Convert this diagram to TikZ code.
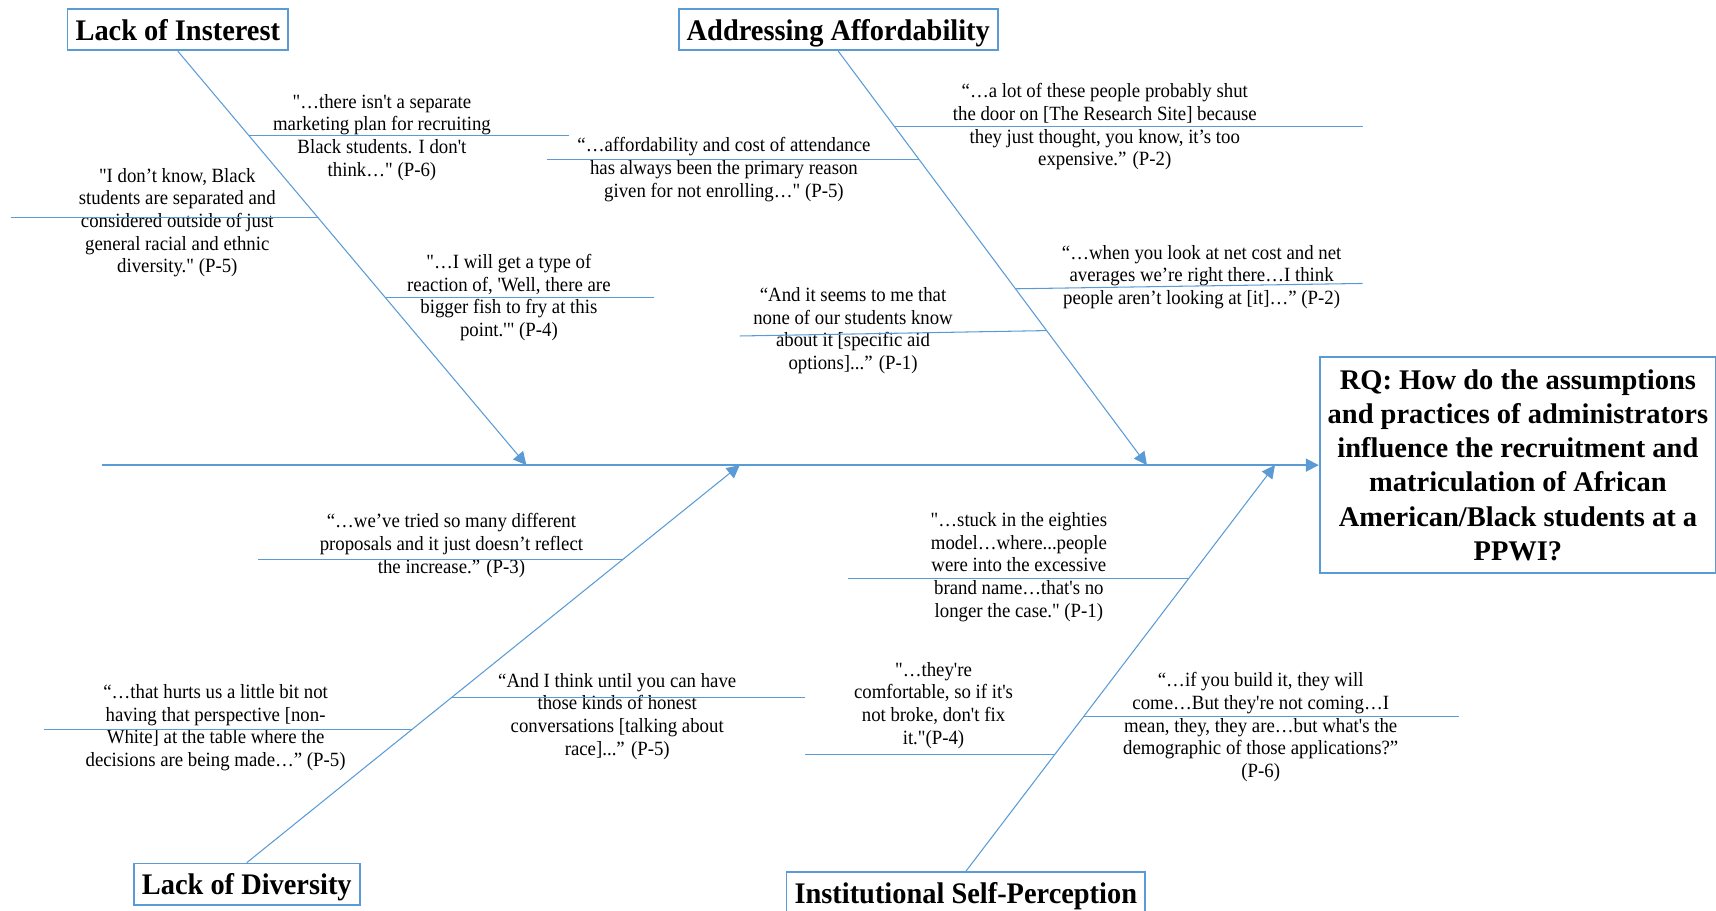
\documentclass[tikz,border=0pt]{standalone}
\usepackage{fontspec}
\newfontfamily\quotefont{Liberation Serif}[FakeStretch=0.93]
\newfontfamily\titlefont{Liberation Serif}[FakeStretch=0.95]
\newfontfamily\rqfont{Liberation Serif}
\usetikzlibrary{arrows.meta,calc}
\definecolor{bone}{HTML}{5B9BD5}

\begin{document}
\begin{tikzpicture}[x=0.021888cm, y=-0.021888cm,
    >={Triangle[length=0.26cm,width=0.26cm]}]
  \useasboundingbox (0,0) rectangle (1568,832);
      \begin{scope}[every node/.style={draw=bone, line width=1pt,
          font=\titlefont\bfseries\fontsize{17}{20}\selectfont,
          text height=12pt, text depth=0pt,
          minimum height=0.83cm, inner xsep=0.16cm}]
        \node (interest) at (162.5,27) {Lack of Insterest};
        \node (afford) at (766,27) {Addressing Affordability};
        \node (diversity) at (225.5,808) {Lack of Diversity};
        \node (selfperc) at (882.5,816) {Institutional Self-Perception};
        \node (rq) [font=\rqfont\bfseries\fontsize{16.2}{19.5}\selectfont,
          text height={}, text depth={},
          align=center, minimum width=7.92cm, minimum height=4.31cm]
          at (1387,425) {RQ: How do the assumptions\\and practices of administrators\\influence the recruitment and\\matriculation of African\\American/Black students at a\\PPWI?};
      \end{scope}
      \coordinate (tail) at (93,425);
      \coordinate (tipA) at (481,425);
      \coordinate (tipB) at (1048,425);
      \coordinate (tipC) at (676,425);
      \coordinate (tipD) at (1165,425);
      \begin{scope}
        [every node/.style={font=\quotefont\fontsize{11.5}{12.9}\selectfont,
          align=center, inner sep=1pt}]
        \node (qA1) at (349,125.5) {"…there isn't a separate\\marketing plan for recruiting\\Black students. I don't\\think…" (P-6)};
        \node (qA2) at (162,203.5) {"I don’t know, Black\\students are separated and\\considered outside of just\\general racial and ethnic\\diversity." (P-5)};
        \node (qA3) at (465,272) {"…I will get a type of\\reaction of, 'Well, there are\\bigger fish to fry at this\\point.'" (P-4)};
        \node (qB1) at (1009.5,116) {“…a lot of these people probably shut\\the door on [The Research Site] because\\they just thought, you know, it’s too\\expensive.” (P-2)};
        \node (qB2) at (661.5,155) {“…affordability and cost of attendance\\has always been the primary reason\\given for not enrolling…" (P-5)};
        \node (qB3) at (1098,253) {“…when you look at net cost and net\\averages we’re right there…I think\\people aren’t looking at [it]…” (P-2)};
        \node (qB4) at (779.5,302) {“And it seems to me that\\none of our students know\\about it [specific aid\\options]...” (P-1)};
        \node (qC1) at (412.5,498.5) {“…we’ve tried so many different\\proposals and it just doesn’t reflect\\the increase.” (P-3)};
        \node (qC2) at (197,665) {“…that hurts us a little bit not\\having that perspective [non-\\White] at the table where the\\decisions are being made…” (P-5)};
        \node (qC3) at (564,654.5) {“And I think until you can have\\those kinds of honest\\conversations [talking about\\race]...” (P-5)};
        \node (qD1) at (931,518) {"…stuck in the eighties\\model…where...people\\were into the excessive\\brand name…that's no\\longer the case." (P-1)};
        \node (qD2) at (853,644.5) {"…they're\\comfortable, so if it's\\not broke, don't fix\\it."(P-4)};
        \node (qD3) at (1152,664.5) {“…if you build it, they will\\come…But they're not coming…I\\mean, they, they are…but what's the\\demographic of those applications?”\\(P-6)};
      \end{scope}
      \coordinate (bA1) at ($(interest.south)!0.203!(tipA)$);
      \coordinate (bA2) at ($(interest.south)!0.401!(tipA)$);
      \coordinate (bA3) at ($(interest.south)!0.596!(tipA)$);
      \coordinate (bB1) at ($(afford.south)!0.183!(tipB)$);
      \coordinate (bB2) at ($(afford.south)!0.262!(tipB)$);
      \coordinate (bB3) at ($(afford.south)!0.574!(tipB)$);
      \coordinate (bB4) at ($(afford.south)!0.675!(tipB)$);
      \coordinate (bC1) at ($(diversity.north)!0.763!(tipC)$);
      \coordinate (bC2) at ($(diversity.north)!0.336!(tipC)$);
      \coordinate (bC3) at ($(diversity.north)!0.416!(tipC)$);
      \coordinate (bD1) at ($(selfperc.north)!0.720!(tipD)$);
      \coordinate (bD2) at ($(selfperc.north)!0.288!(tipD)$);
      \coordinate (bD3) at ($(selfperc.north)!0.382!(tipD)$);
      \coordinate (eA1) at (520,123);
      \coordinate (eA2) at (10,198);
      \coordinate (eA3) at (598,272);
      \coordinate (eB1) at (1245,116);
      \coordinate (eB2) at (500,146);
      \coordinate (eB3) at (1245,259);
      \coordinate (eB4) at (676,307);
      \coordinate (eC1) at (236,511);
      \coordinate (eC2) at (40,666);
      \coordinate (eC3) at (736,637);
      \coordinate (eD1) at (775,529);
      \coordinate (eD2) at (736,690);
      \coordinate (eD3) at (1333,655);
      \begin{scope}
        [every edge/.style={draw=bone, line width=0.6pt}]
        \path[->] (tail) edge[line width=1pt] (rq.west);
        \path[->] (interest.south) edge (tipA);
        \path[->] (afford.south) edge (tipB);
        \path[->] (diversity.north) edge (tipC);
        \path[->] (selfperc.north) edge (tipD);
        \path (bA1) edge (bA1 -| eA1);
        \path (bA2) edge (bA2 -| eA2);
        \path (bA3) edge (bA3 -| eA3);
        \path (bB1) edge (bB1 -| eB1);
        \path (bB2) edge (bB2 -| eB2);
        \path (bB3) edge (eB3);
        \path (bB4) edge (eB4);
        \path (bC1) edge (bC1 -| eC1);
        \path (bC2) edge (bC2 -| eC2);
        \path (bC3) edge (bC3 -| eC3);
        \path (bD1) edge (bD1 -| eD1);
        \path (bD2) edge (bD2 -| eD2);
        \path (bD3) edge (bD3 -| eD3);
      \end{scope}
    \end{tikzpicture}
\end{document}
